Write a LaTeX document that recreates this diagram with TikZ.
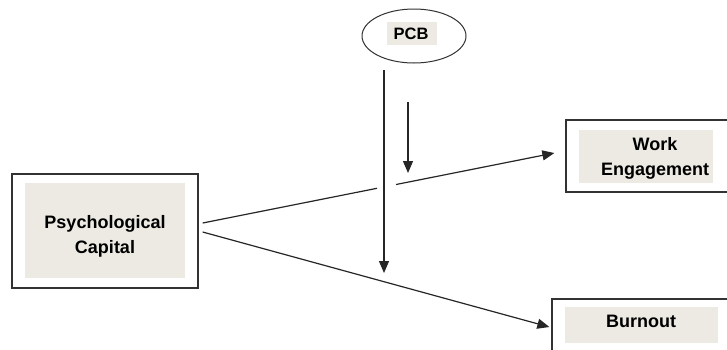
\documentclass[tikz,border=0pt]{standalone}
\usepackage{fontspec}
\setmainfont{Liberation Sans}
\usetikzlibrary{arrows.meta,calc,shapes.geometric}
\definecolor{fillbeige}{RGB}{236,234,226}
\definecolor{edgegray}{RGB}{50,50,50}
\tikzset{
  outerbox/.style={draw=edgegray, line width=1.3pt, fill=white, inner sep=0pt},
  innerfill/.style={fill=fillbeige, draw=none, inner sep=0pt},
  lbl/.style={font=\bfseries\fontsize{18}{25}\selectfont, align=center, inner sep=0pt, text=black},
  conn/.style={line width=1.2pt, draw=black!85, -{Triangle[length=12pt,width=10pt]}},
  plainconn/.style={line width=1.2pt, draw=black!85},
}
\begin{document}
\begin{tikzpicture}[x=1pt,y=-1pt]
\useasboundingbox[fill=white] (0,0) rectangle (727,349);
% Psychological Capital
\node[outerbox, minimum width=186, minimum height=114] (pc) at (105,231) {};
\node[innerfill, minimum width=160, minimum height=95] (pcfill) at (105,230.5) {};
\node[lbl] (pctext) at (105,236) {Psychological\\Capital};
% Work Engagement
\node[outerbox, minimum width=174, minimum height=72] (we) at (653,156) {};
\node[innerfill, minimum width=134, minimum height=53] (wefill) at (646,156.5) {};
\node[lbl] (wetext) at (655,158) {Work\\Engagement};
% Burnout
\node[outerbox, minimum width=188, minimum height=61] (bo) at (646,329.5) {};
\node[innerfill, minimum width=153, minimum height=36] (bofill) at (641.5,325) {};
\node[lbl] (botext) at (641,321) {Burnout};
% PCB
\node[ellipse, draw=edgegray, line width=1pt, minimum width=104, minimum height=54, inner sep=0pt] (pcb) at (414,36) {};
\node[innerfill, minimum width=50, minimum height=23] (pcbfill) at (412,33.5) {};
\node[lbl, font=\bfseries\fontsize{16.5}{20}\selectfont] (pcbtext) at (411,34) {PCB};
% connectors
\coordinate (s1) at ([shift={(4,-8)}]pc.east);
\coordinate (e1) at ([shift={(-11,-3)}]we.west);
\coordinate (s2) at ([shift={(4,1)}]pc.east);
\coordinate (e2) at ([shift={(-2,-2.5)}]bo.west);
\coordinate (g1) at ($(s1)!0.496!(e1)$);
\coordinate (g2) at ($(s1)!0.55!(e1)$);
\draw[plainconn] (s1) -- (g1);
\draw[conn] (g2) -- (e1);
\draw[conn] (s2) -- (e2);
\coordinate (v1s) at (384,70);
\coordinate (v1e) at (384,273);
\draw[conn] (v1s) -- (v1e);
\coordinate (v2s) at (408,102);
\coordinate (v2e) at (408,173);
\draw[conn] (v2s) -- (v2e);
\end{tikzpicture}
\end{document}
